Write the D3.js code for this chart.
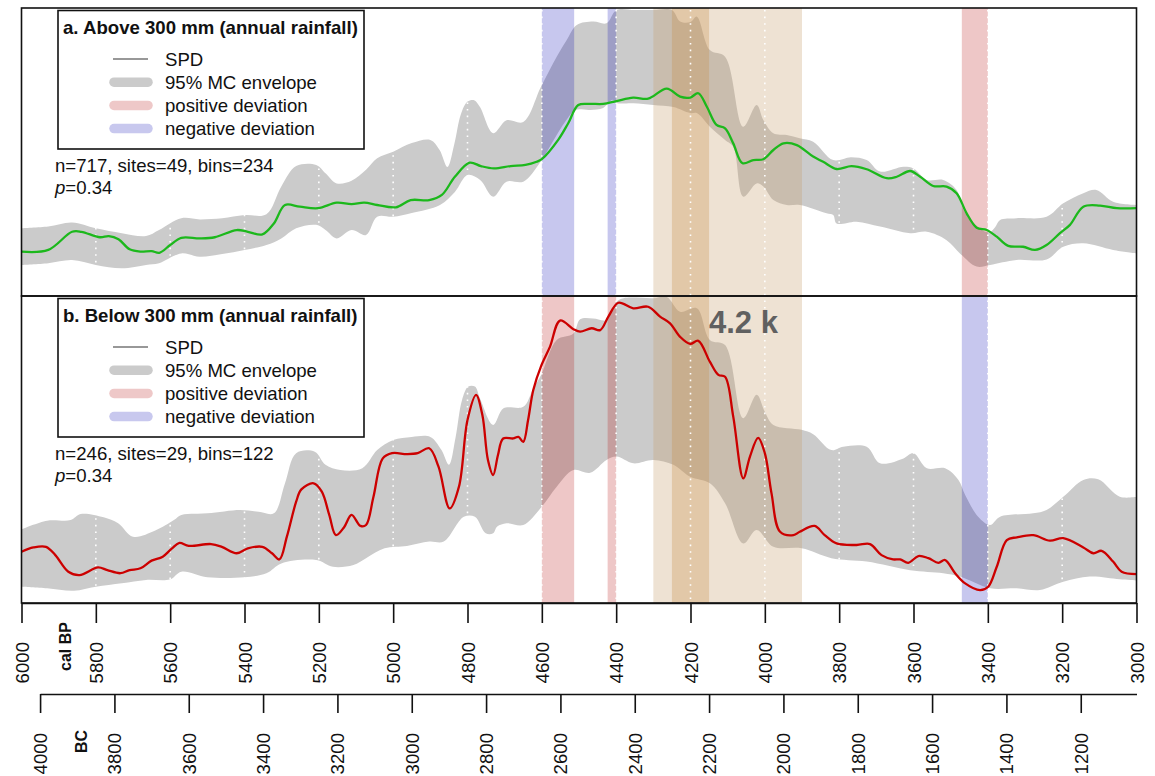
<!DOCTYPE html>
<html>
<head>
<meta charset="utf-8">
<script src="https://cdn.jsdelivr.net/npm/d3@7"></script>
<style>
  html, body { margin: 0; padding: 0; background: #fff; }
  svg { display: block; font-family: "Liberation Sans", Arial, Helvetica, sans-serif; }
</style>
</head>
<body>
<svg id="chart" width="1155" height="776"></svg>
<script>
// ---- Data: summed probability (normalised) per panel, [cal BP, value] ----
const spdAbove = [[6000,0.154],[5928,0.160],[5864,0.223],[5839,0.223],[5789,0.204],[5765,0.208],[5739,0.197],[5709,0.162],[5680,0.154],[5650,0.156],[5629,0.150],[5600,0.177],[5570,0.202],[5520,0.200],[5480,0.204],[5421,0.229],[5391,0.223],[5352,0.214],[5321,0.252],[5291,0.316],[5251,0.310],[5202,0.305],[5152,0.324],[5112,0.319],[5078,0.324],[5043,0.316],[4993,0.308],[4953,0.333],[4903,0.333],[4869,0.351],[4834,0.414],[4794,0.463],[4764,0.451],[4729,0.443],[4684,0.451],[4644,0.455],[4614,0.466],[4600,0.475],[4556,0.542],[4529,0.600],[4502,0.663],[4471,0.667],[4435,0.667],[4399,0.677],[4354,0.689],[4314,0.685],[4264,0.720],[4228,0.692],[4201,0.689],[4179,0.704],[4156,0.657],[4130,0.594],[4107,0.582],[4085,0.530],[4060,0.461],[4031,0.472],[4004,0.475],[3977,0.507],[3950,0.530],[3914,0.524],[3870,0.484],[3843,0.466],[3807,0.441],[3767,0.451],[3726,0.440],[3672,0.409],[3645,0.414],[3609,0.434],[3582,0.414],[3547,0.382],[3511,0.380],[3484,0.357],[3457,0.287],[3430,0.237],[3403,0.229],[3376,0.206],[3345,0.174],[3305,0.171],[3273,0.160],[3242,0.177],[3206,0.218],[3179,0.247],[3143,0.310],[3098,0.314],[3053,0.305],[3000,0.305]];

const envAboveHi = [[6000,0.235],[5928,0.241],[5864,0.255],[5800,0.235],[5730,0.218],[5665,0.208],[5630,0.229],[5570,0.270],[5520,0.266],[5460,0.270],[5400,0.281],[5341,0.284],[5301,0.380],[5261,0.451],[5207,0.455],[5182,0.426],[5152,0.391],[5112,0.400],[5073,0.438],[5043,0.478],[5000,0.501],[4950,0.531],[4900,0.542],[4875,0.507],[4854,0.448],[4835,0.530],[4818,0.630],[4800,0.675],[4782,0.680],[4766,0.655],[4731,0.565],[4695,0.610],[4650,0.604],[4602,0.727],[4560,0.831],[4533,0.889],[4506,0.941],[4462,0.953],[4426,0.947],[4399,0.993],[4350,0.993],[4300,0.993],[4250,0.993],[4228,0.953],[4200,0.951],[4183,0.970],[4148,0.854],[4107,0.831],[4058,0.588],[4022,0.663],[4004,0.611],[3977,0.565],[3941,0.559],[3906,0.548],[3870,0.536],[3816,0.472],[3768,0.482],[3726,0.472],[3690,0.432],[3627,0.449],[3600,0.443],[3564,0.403],[3520,0.403],[3484,0.368],[3466,0.300],[3440,0.255],[3410,0.225],[3394,0.222],[3380,0.240],[3367,0.264],[3323,0.270],[3242,0.275],[3197,0.322],[3143,0.357],[3108,0.368],[3063,0.327],[3000,0.316]];

const envAboveLo = [[6000,0.108],[5928,0.114],[5864,0.125],[5800,0.108],[5730,0.096],[5665,0.108],[5630,0.114],[5570,0.148],[5520,0.136],[5460,0.146],[5400,0.160],[5341,0.177],[5301,0.200],[5261,0.235],[5207,0.247],[5182,0.229],[5152,0.200],[5112,0.229],[5073,0.212],[5043,0.275],[5000,0.275],[4950,0.288],[4874,0.316],[4834,0.361],[4800,0.420],[4766,0.403],[4731,0.345],[4695,0.397],[4650,0.397],[4602,0.469],[4560,0.559],[4530,0.618],[4510,0.646],[4470,0.646],[4435,0.653],[4410,0.681],[4399,0.670],[4354,0.669],[4300,0.663],[4246,0.656],[4201,0.635],[4183,0.635],[4148,0.588],[4107,0.542],[4085,0.518],[4058,0.345],[4022,0.391],[4004,0.380],[3977,0.333],[3941,0.316],[3906,0.316],[3834,0.287],[3816,0.281],[3807,0.252],[3753,0.258],[3690,0.241],[3609,0.218],[3564,0.223],[3511,0.194],[3475,0.148],[3430,0.102],[3394,0.108],[3323,0.125],[3242,0.127],[3197,0.171],[3143,0.183],[3063,0.160],[3000,0.148]];

const spdBelow = [[6000,0.167],[5968,0.181],[5934,0.183],[5909,0.156],[5874,0.102],[5844,0.091],[5794,0.116],[5769,0.107],[5734,0.097],[5709,0.107],[5680,0.113],[5650,0.138],[5620,0.151],[5595,0.178],[5575,0.196],[5550,0.186],[5490,0.192],[5461,0.183],[5421,0.162],[5391,0.178],[5352,0.183],[5326,0.162],[5306,0.142],[5286,0.216],[5261,0.330],[5247,0.370],[5214,0.390],[5192,0.363],[5172,0.287],[5154,0.221],[5132,0.247],[5112,0.287],[5088,0.251],[5073,0.254],[5053,0.346],[5028,0.471],[5003,0.488],[4963,0.485],[4934,0.488],[4903,0.504],[4878,0.444],[4848,0.308],[4823,0.379],[4800,0.596],[4777,0.678],[4760,0.612],[4745,0.466],[4731,0.417],[4718,0.482],[4704,0.536],[4677,0.536],[4663,0.541],[4650,0.525],[4637,0.596],[4623,0.694],[4601,0.775],[4578,0.835],[4551,0.920],[4515,0.892],[4497,0.884],[4466,0.895],[4443,0.889],[4421,0.933],[4394,0.978],[4354,0.960],[4314,0.965],[4282,0.933],[4255,0.911],[4228,0.867],[4201,0.844],[4179,0.854],[4148,0.786],[4125,0.743],[4107,0.737],[4085,0.607],[4058,0.406],[4040,0.477],[4018,0.538],[4000,0.488],[3982,0.357],[3959,0.232],[3923,0.221],[3906,0.232],[3866,0.251],[3839,0.221],[3807,0.194],[3753,0.189],[3717,0.192],[3686,0.156],[3655,0.142],[3636,0.142],[3614,0.131],[3587,0.153],[3560,0.146],[3533,0.131],[3515,0.140],[3488,0.097],[3461,0.064],[3421,0.042],[3399,0.053],[3376,0.118],[3349,0.205],[3322,0.214],[3278,0.221],[3233,0.203],[3197,0.211],[3143,0.181],[3116,0.162],[3094,0.170],[3063,0.135],[3040,0.102],[3000,0.094]];

const envBelowHi = [[6000,0.240],[5931,0.268],[5868,0.270],[5841,0.290],[5779,0.279],[5740,0.260],[5700,0.216],[5640,0.236],[5590,0.270],[5570,0.287],[5500,0.292],[5411,0.303],[5362,0.297],[5321,0.292],[5291,0.390],[5261,0.488],[5211,0.493],[5182,0.450],[5142,0.433],[5083,0.439],[5043,0.498],[5000,0.531],[4950,0.541],[4900,0.541],[4870,0.498],[4850,0.450],[4832,0.540],[4815,0.660],[4798,0.705],[4780,0.705],[4766,0.665],[4731,0.580],[4703,0.634],[4650,0.639],[4623,0.699],[4602,0.743],[4560,0.857],[4515,0.878],[4497,0.924],[4462,0.927],[4426,0.922],[4399,0.981],[4380,0.993],[4300,0.993],[4264,0.997],[4228,0.949],[4183,0.960],[4148,0.857],[4107,0.840],[4058,0.602],[4022,0.678],[4000,0.623],[3977,0.580],[3901,0.564],[3870,0.550],[3821,0.498],[3789,0.509],[3726,0.509],[3690,0.455],[3627,0.471],[3600,0.488],[3564,0.439],[3515,0.439],[3479,0.401],[3461,0.352],[3426,0.281],[3394,0.254],[3367,0.281],[3278,0.292],[3242,0.303],[3197,0.346],[3143,0.401],[3103,0.403],[3045,0.346],[3000,0.346]];

const envBelowLo = [[6000,0.053],[5931,0.048],[5859,0.040],[5800,0.053],[5730,0.064],[5665,0.075],[5600,0.077],[5570,0.102],[5500,0.084],[5400,0.084],[5341,0.097],[5301,0.129],[5207,0.140],[5162,0.118],[5107,0.124],[5073,0.146],[5023,0.178],[4963,0.186],[4903,0.200],[4864,0.200],[4810,0.281],[4780,0.281],[4751,0.227],[4731,0.227],[4720,0.249],[4695,0.260],[4650,0.254],[4602,0.311],[4560,0.379],[4515,0.433],[4470,0.424],[4426,0.466],[4399,0.477],[4354,0.455],[4300,0.466],[4246,0.450],[4201,0.411],[4148,0.390],[4107,0.325],[4058,0.194],[4022,0.238],[3977,0.183],[3901,0.178],[3821,0.146],[3726,0.135],[3609,0.107],[3520,0.097],[3475,0.086],[3394,0.048],[3322,0.048],[3260,0.042],[3197,0.069],[3126,0.086],[3045,0.077],[3000,0.073]];

// Periods of significant deviation, [start, end] in cal BP
const posAbove = [[3470, 3400]];
const negAbove = [[4600, 4513], [4423, 4400]];
const posBelow = [[4600, 4513], [4423, 4400]];
const negBelow = [[3470, 3400]];

// 4.2 ka event windows
const event42 = [4300, 3900];
const event42Core = [4250, 4150];

const calBPTicks = [6000, 5800, 5600, 5400, 5200, 5000, 4800, 4600, 4400, 4200, 4000, 3800, 3600, 3400, 3200, 3000];
const bcTicks = [4000, 3800, 3600, 3400, 3200, 3000, 2800, 2600, 2400, 2200, 2000, 1800, 1600, 1400, 1200];
const gridYears = [5800, 5600, 5400, 5200, 5000, 4800, 4600, 4400, 4200, 4000, 3800, 3600, 3400, 3200];

const panels = [
  { key: "a", title: "a. Above 300 mm (annual rainfall)", stats: "n=717, sites=49, bins=234",
    spd: spdAbove, hi: envAboveHi, lo: envAboveLo, pos: posAbove, neg: negAbove,
    color: "#1cb81c", top: 8, bottom: 296 },
  { key: "b", title: "b. Below 300 mm (annual rainfall)", stats: "n=246, sites=29, bins=122",
    spd: spdBelow, hi: envBelowHi, lo: envBelowLo, pos: posBelow, neg: negBelow,
    color: "#cc0000", top: 296, bottom: 603 }
];

const legendItems = [
  { label: "SPD", type: "line" },
  { label: "95% MC envelope", color: "#cbcbcb" },
  { label: "positive deviation", color: "#eec8c8" },
  { label: "negative deviation", color: "#c8c8ee" }
];

// ---- Layout ----
const svg = d3.select("#chart");
const x = d3.scaleLinear().domain([6000, 3000]).range([21.5, 1136.5]);
const xBC = d3.scaleLinear().domain([4050, 1050]).range([21.5, 1136.5]);
const smooth = d3.curveCatmullRom.alpha(0.5);
const ENV = "#cbcbcb";
const POS = "rgba(178,0,0,0.22)";
const NEG = "rgba(0,0,178,0.22)";

panels.forEach(p => {
  p.y = d3.scaleLinear().domain([0, 1]).range([p.bottom, p.top]);
  svg.append("clipPath").attr("id", "clip-" + p.key)
    .append("rect").attr("x", x(6000)).attr("y", p.top)
    .attr("width", x(3000) - x(6000)).attr("height", p.bottom - p.top);
});

panels.forEach(p => {
  const g = svg.append("g").attr("clip-path", `url(#clip-${p.key})`);
  const line = d3.line().x(d => x(d[0])).y(d => p.y(d[1])).curve(smooth);

  // envelope polygon: upper edge left to right, lower edge back
  const upper = line(p.hi);
  const lower = line(p.lo.slice().reverse());
  g.append("path").attr("d", upper + "L" + lower.slice(1) + "Z")
    .attr("fill", ENV).attr("stroke", "none");

  // deviation bands
  g.selectAll("rect.pos").data(p.pos).join("rect").attr("class", "pos")
    .attr("x", d => x(d[0])).attr("width", d => x(d[1]) - x(d[0]))
    .attr("y", p.top).attr("height", p.bottom - p.top).attr("fill", POS);
  g.selectAll("rect.neg").data(p.neg).join("rect").attr("class", "neg")
    .attr("x", d => x(d[0])).attr("width", d => x(d[1]) - x(d[0]))
    .attr("y", p.top).attr("height", p.bottom - p.top).attr("fill", NEG);
});

// 4.2 ka event bands across both panels
svg.append("rect").attr("x", x(event42[0])).attr("width", x(event42[1]) - x(event42[0]))
  .attr("y", panels[0].top).attr("height", panels[1].bottom - panels[0].top)
  .attr("fill", "rgba(200,160,110,0.3)");
svg.append("rect").attr("x", x(event42Core[0])).attr("width", x(event42Core[1]) - x(event42Core[0]))
  .attr("y", panels[0].top).attr("height", panels[1].bottom - panels[0].top)
  .attr("fill", "rgba(200,140,70,0.3)");

// white dotted guides
svg.selectAll("line.guide").data(gridYears).join("line").attr("class", "guide")
  .attr("x1", d => x(d)).attr("x2", d => x(d))
  .attr("y1", panels[0].top + 2).attr("y2", panels[1].bottom - 2)
  .attr("stroke", "#fff").attr("stroke-width", 1.6).attr("stroke-dasharray", "1.6,5");

panels.forEach(p => {
  const g = svg.append("g").attr("clip-path", `url(#clip-${p.key})`);
  const line = d3.line().x(d => x(d[0])).y(d => p.y(d[1])).curve(smooth);
  g.append("path").attr("d", line(p.spd)).attr("fill", "none")
    .attr("stroke", p.color).attr("stroke-width", 2.3).attr("stroke-linejoin", "round");

  // panel frame
  svg.append("rect").attr("x", x(6000)).attr("y", p.top)
    .attr("width", x(3000) - x(6000)).attr("height", p.bottom - p.top)
    .attr("fill", "none").attr("stroke", "#111").attr("stroke-width", 1.6);

  // legend
  const lg = svg.append("g").attr("transform", `translate(58,${p.top + 2.5})`);
  lg.append("rect").attr("width", 306).attr("height", 138.5)
    .attr("fill", "#fff").attr("stroke", "#111").attr("stroke-width", 1.6);
  lg.append("text").attr("x", 5).attr("y", 23.5).attr("font-weight", "bold")
    .attr("font-size", 18.6).attr("fill", "#111").text(p.title);
  legendItems.forEach((it, i) => {
    const cy = 48.5 + i * 23.2;
    if (it.type === "line") {
      lg.append("line").attr("x1", 55).attr("x2", 90).attr("y1", cy).attr("y2", cy)
        .attr("stroke", "#333").attr("stroke-width", 1.2);
    } else {
      lg.append("line").attr("x1", 56).attr("x2", 90).attr("y1", cy).attr("y2", cy)
        .attr("stroke", it.color).attr("stroke-width", 9.5).attr("stroke-linecap", "round");
    }
    lg.append("text").attr("x", 107).attr("y", cy + 6.5).attr("font-size", 18.6)
      .attr("fill", "#111").text(it.label);
  });

  // sample statistics
  svg.append("text").attr("x", 55).attr("y", p.top + 164).attr("font-size", 18.6)
    .attr("fill", "#111").text(p.stats);
  const pt = svg.append("text").attr("x", 55).attr("y", p.top + 186).attr("font-size", 18.6).attr("fill", "#111");
  pt.append("tspan").attr("font-style", "italic").text("p");
  pt.append("tspan").text("=0.34");
});

// event label
svg.append("text").attr("x", 709).attr("y", 333).attr("font-size", 31)
  .attr("font-weight", "bold").attr("fill", "#606060").text("4.2 k");

// ---- Axes ----
function styleAxis(g, labelTop) {
  g.select(".domain").attr("stroke", "#111").attr("stroke-width", 1.6);
  g.selectAll(".tick line").attr("stroke", "#111").attr("stroke-width", 1.6);
  g.selectAll(".tick text")
    .attr("font-size", 18.6).attr("fill", "#111")
    .attr("font-family", "'Liberation Sans', Arial, sans-serif")
    .attr("text-anchor", "end").attr("dy", "0.35em")
    .attr("transform", `translate(0,${labelTop}) rotate(-90)`)
    .attr("x", 0).attr("y", 0);
}

const axBP = svg.append("g").attr("transform", "translate(0,603)")
  .call(d3.axisBottom(x).tickValues(calBPTicks).tickFormat(d3.format("d"))
    .tickSize(20).tickSizeOuter(0));
styleAxis(axBP, 39);

const bcScale = d3.scaleLinear().domain([4000, 1050]).range([xBC(4000), xBC(1050)]);
const axBC = svg.append("g").attr("transform", "translate(0,694)")
  .call(d3.axisBottom(bcScale).tickValues(bcTicks).tickFormat(d3.format("d"))
    .tickSize(19).tickSizeOuter(0));
styleAxis(axBC, 39);

svg.append("text").attr("transform", "translate(65,622) rotate(-90)")
  .attr("text-anchor", "end").attr("dy", "0.35em").attr("font-size", 16)
  .attr("font-weight", "bold").attr("fill", "#111").text("cal BP");
svg.append("text").attr("transform", "translate(81.5,730) rotate(-90)")
  .attr("text-anchor", "end").attr("dy", "0.35em").attr("font-size", 16)
  .attr("font-weight", "bold").attr("fill", "#111").text("BC");
</script>
</body>
</html>
